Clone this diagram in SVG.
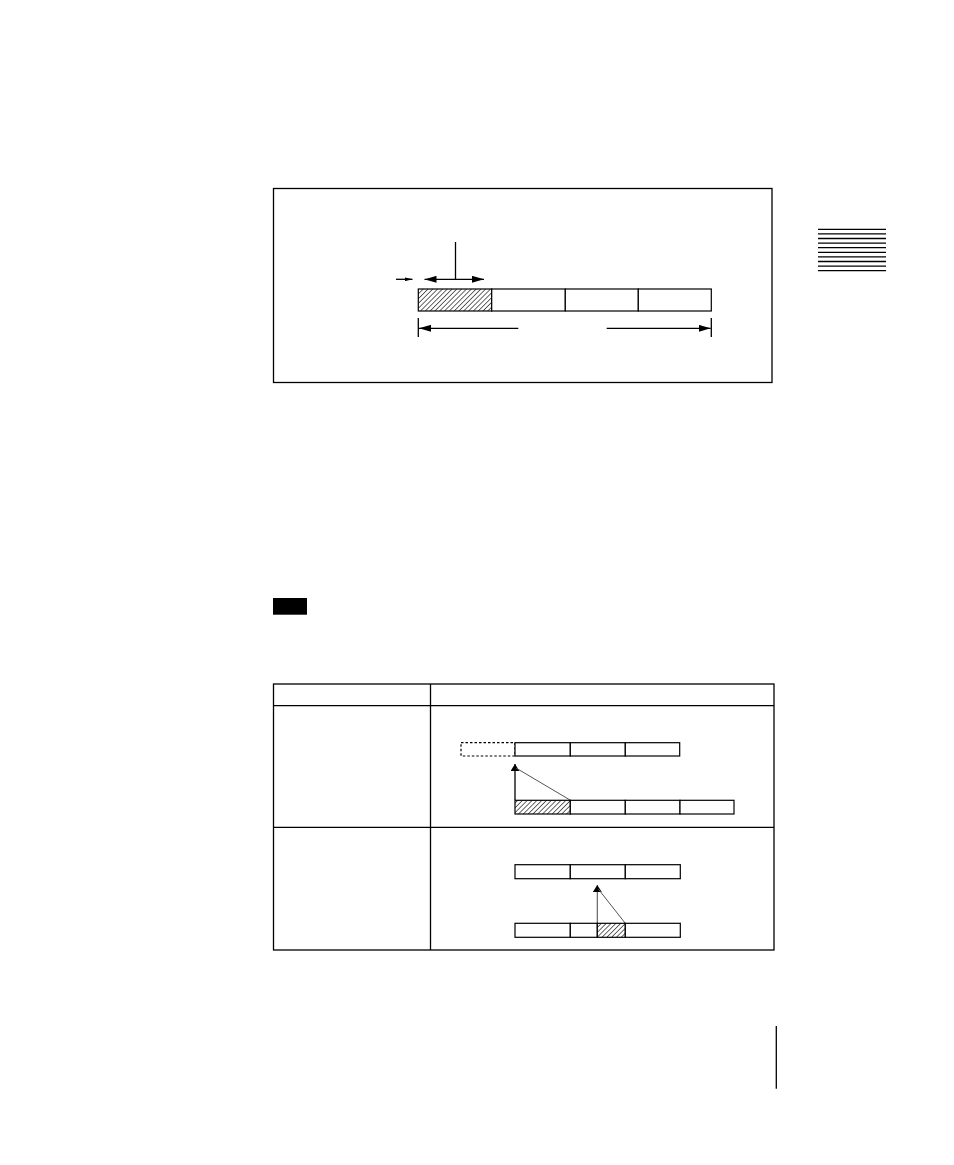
<svg xmlns="http://www.w3.org/2000/svg" width="954" height="1165" viewBox="0 0 954 1165">
<defs>
<style>
.ln{stroke:#000;stroke-width:1.3;fill:none}
.cell{stroke:#000;stroke-width:1.2;fill:#fff}
.hatch{stroke:#000;stroke-width:1.2;fill:url(#hatch)}
.thin{stroke:#555;stroke-width:1;fill:none}
</style>
<pattern id="hatch" patternUnits="userSpaceOnUse" width="3.4" height="3.4" patternTransform="rotate(45)">
<rect width="3.4" height="3.4" fill="#fff"/>
<line x1="0" y1="0" x2="0" y2="3.4" stroke="#000" stroke-width="1.2"/>
</pattern>
<marker id="ah" viewBox="0 0 12 7" refX="12" refY="3.5" markerWidth="12" markerHeight="7" markerUnits="userSpaceOnUse" orient="auto-start-reverse">
<path d="M0,0 L12,3.5 L0,7 z" fill="#000"/>
</marker>
<marker id="ahs" viewBox="0 0 8 4" refX="8" refY="2" markerWidth="8" markerHeight="4" markerUnits="userSpaceOnUse" orient="auto">
<path d="M0,0 L8,2 L0,4 z" fill="#000"/>
</marker>
<marker id="tri" viewBox="0 0 9 7" refX="4.5" refY="0" markerWidth="9" markerHeight="7" markerUnits="userSpaceOnUse" orient="0">
<path d="M4.5,0 L9,7 L0,7 z" fill="#000"/>
</marker>
</defs>
<rect width="954" height="1165" fill="#fff"/>

<g id="tab-marker">
<g stroke="#000" stroke-width="1.3">
<line x1="818" y1="229.3" x2="886" y2="229.3"/>
<line x1="818" y1="233.9" x2="886" y2="233.9"/>
<line x1="818" y1="238.5" x2="886" y2="238.5"/>
<line x1="818" y1="243.1" x2="886" y2="243.1"/>
<line x1="818" y1="247.7" x2="886" y2="247.7"/>
<line x1="818" y1="252.3" x2="886" y2="252.3"/>
<line x1="818" y1="256.9" x2="886" y2="256.9"/>
<line x1="818" y1="261.5" x2="886" y2="261.5"/>
<line x1="818" y1="266.1" x2="886" y2="266.1"/>
<line x1="818" y1="270.7" x2="886" y2="270.7"/>
</g>
</g>

<g id="figure-frame">
<rect x="273.5" y="188.5" width="498.5" height="194" class="ln"/>
</g>

<g id="top-bar">
<rect x="418.3" y="289" width="73.4" height="22" class="hatch"/>
<rect x="491.7" y="289" width="73.6" height="22" class="cell"/>
<rect x="565.3" y="289" width="73" height="22" class="cell"/>
<rect x="638.3" y="289" width="73" height="22" class="cell"/>
</g>

<g id="connectors">
<line x1="455.5" y1="242" x2="455.5" y2="279.3" class="ln"/>
<line x1="424.5" y1="279.3" x2="484" y2="279.3" class="ln" marker-start="url(#ah)" marker-end="url(#ah)"/>
<line x1="396" y1="279.3" x2="412.5" y2="279.3" class="ln" marker-end="url(#ahs)"/>
<line x1="418.3" y1="318" x2="418.3" y2="337" class="ln"/>
<line x1="711.3" y1="318" x2="711.3" y2="337" class="ln"/>
<line x1="518.3" y1="328.3" x2="419" y2="328.3" class="ln" marker-end="url(#ah)"/>
<line x1="606.7" y1="328.3" x2="710.6" y2="328.3" class="ln" marker-end="url(#ah)"/>

<line x1="515" y1="800" x2="515" y2="764" class="ln" marker-end="url(#tri)"/>
<line x1="570" y1="800" x2="516" y2="768" class="thin"/>
<line x1="597.3" y1="923.3" x2="597.3" y2="885" stroke="#555" stroke-width="1.1" marker-end="url(#tri)"/>
<line x1="625.3" y1="923.3" x2="598.3" y2="889" class="thin"/>
</g>

<g id="note-label">
<rect x="273" y="598" width="34" height="16.7" fill="#000"/>
</g>

<g id="table">
<rect x="273.5" y="684" width="500.5" height="266" class="ln"/>
<line x1="273.5" y1="705.7" x2="774" y2="705.7" class="ln"/>
<line x1="273.5" y1="827.3" x2="774" y2="827.3" class="ln"/>
<line x1="430.5" y1="684" x2="430.5" y2="950" class="ln"/>
</g>

<g id="row1-upper-bar">
<rect x="461" y="742.7" width="54" height="13.3" fill="none" stroke="#000" stroke-width="1.2" stroke-dasharray="2.5,2"/>
<rect x="515" y="742.7" width="55.3" height="13.3" class="cell"/>
<rect x="570.3" y="742.7" width="55" height="13.3" class="cell"/>
<rect x="625.3" y="742.7" width="54.4" height="13.3" class="cell"/>
</g>

<g id="row1-lower-bar">
<rect x="515" y="800.3" width="55.3" height="13.7" class="hatch"/>
<rect x="570.3" y="800.3" width="55" height="13.7" class="cell"/>
<rect x="625.3" y="800.3" width="54.7" height="13.7" class="cell"/>
<rect x="680" y="800.3" width="54" height="13.7" class="cell"/>
</g>

<g id="row2-upper-bar">
<rect x="515" y="864.7" width="55.3" height="14" class="cell"/>
<rect x="570.3" y="864.7" width="55" height="14" class="cell"/>
<rect x="625.3" y="864.7" width="55" height="14" class="cell"/>
</g>

<g id="row2-lower-bar">
<rect x="515" y="923.3" width="55.3" height="14" class="cell"/>
<rect x="570.3" y="923.3" width="27" height="14" class="cell"/>
<rect x="597.3" y="923.3" width="28" height="14" class="hatch"/>
<rect x="625.3" y="923.3" width="55" height="14" class="cell"/>
</g>

<g id="page-rule">
<line x1="776.3" y1="1026" x2="776.3" y2="1088.7" class="ln"/>
</g>
</svg>
